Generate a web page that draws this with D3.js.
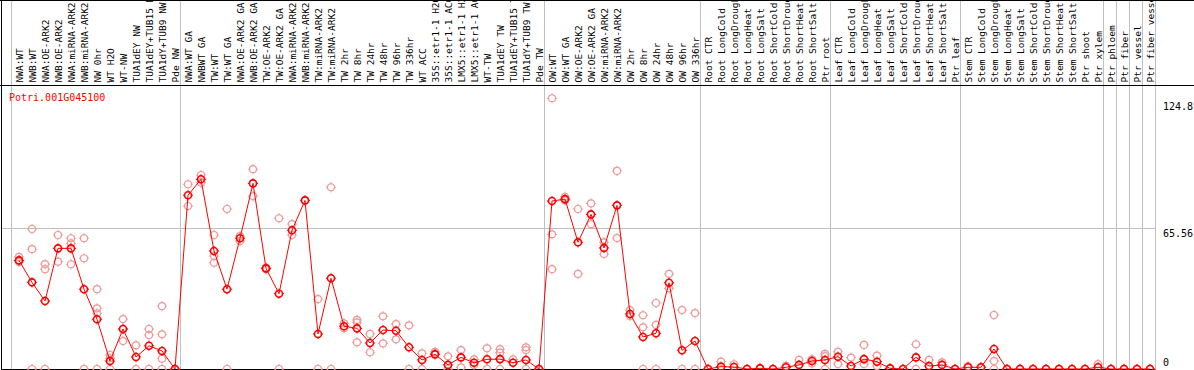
<!DOCTYPE html>
<html>
<head>
<meta charset="utf-8">
<script src="https://cdn.jsdelivr.net/npm/d3@7"></script>
<style>
  body { margin: 0; background: #fff; }
  svg { display: block; }
  text { font-family: "DejaVu Sans Mono", monospace; }
</style>
</head>
<body>
<div class="chart"></div>
<script>
// Sample labels, in column order
var labels = [
  "NWA:WT", "NWB:WT", "NWA:OE-ARK2", "NWB:OE-ARK2", "NWA:miRNA-ARK2", "NWB:miRNA-ARK2",
  "NW 0hr", "WT H2O", "WT-NW", "TUA1dEY NW", "TUA1dEY+TUB15 NW", "TUA1dY+TUB9 NW", "Pde NW",
  "NWA:WT GA", "NWBWT GA", "TW:WT", "TW:WT GA", "NWA:OE-ARK2 GA", "NWB:OE-ARK2 GA",
  "TW:OE-ARK2", "TW:OE-ARK2 GA", "NWA:miRNA-ARK2", "NWB:miRNA-ARK2", "TW:miRNA-ARK2", "TW:miRNA-ARK2",
  "TW 2hr", "TW 8hr", "TW 24hr", "TW 48hr", "TW 96hr", "TW 336hr", "WT ACC",
  "35S::etr1-1 H2O", "35S::etr1-1 ACC", "LMX5::etr1-1 H2O", "LMX5::etr1-1 ACC",
  "WT-TW", "TUA1dEY TW", "TUA1dEY+TUB15 TW", "TUA1dY+TUB9 TW", "Pde TW",
  "OW:WT", "OW:WT GA", "OW:OE-ARK2", "OW:OE-ARK2 GA", "OW:miRNA-ARK2", "OW:miRNA-ARK2",
  "OW 2hr", "OW 8hr", "OW 24hr", "OW 48hr", "OW 96hr", "OW 336hr",
  "Root CTR", "Root LongCold", "Root LongDrought", "Root LongHeat", "Root LongSalt",
  "Root ShortCold", "Root ShortDrought", "Root ShortHeat", "Root ShortSalt", "Ptr root",
  "Leaf CTR", "Leaf LongCold", "Leaf LongDrought", "Leaf LongHeat", "Leaf LongSalt",
  "Leaf ShortCold", "Leaf ShortDrought", "Leaf ShortHeat", "Leaf ShortSalt", "Ptr leaf",
  "Stem CTR", "Stem LongCold", "Stem LongDrought", "Stem LongHeat", "Stem LongSalt",
  "Stem ShortCold", "Stem ShortDrought", "Stem ShortHeat", "Stem ShortSalt", "Ptr shoot", "Ptr xylem",
  "Ptr phloem", "Ptr fiber", "Ptr vessel", "Ptr fiber vessel"
];

// number of columns in each experiment block
var groupSizes = [13, 28, 12, 10, 10, 11, 1, 1, 1, 1];

// mean expression per column
var means = [
  50.5, 40.3, 31.6, 56.1, 56.1, 37.1, 23.1, 3.7, 18.6, 5.6, 10.8, 8.4, 0,
  80.8, 88.2, 54.9, 37.1, 60.8, 86.3, 46.8, 35.0, 64.5, 78.4, 16.3, 42.2,
  19.9, 18.9, 12.1, 18.1, 17.8, 10.1, 4.2, 6.8, 1.9, 5.4, 2.9, 4.5, 4.6, 2.9, 4.2, 0,
  78.1, 79.0, 58.9, 71.9, 56.3, 76.1, 25.6, 14.9, 16.6, 40.1, 8.7, 13.0,
  0, 1.1, 0.9, 0, 0.3, 0, 0.8, 1.9, 3.7, 4.2,
  5.7, 1.4, 4.6, 3.4, 0.3, 0, 5.4, 1.4, 1.9, 0,
  0.8, 0.8, 9.3, 0, 0, 0, 0, 0, 0, 0, 0.8,
  0, 0, 0, 0
];

// individual replicate values per column
var reps = [
  [52.1, 49.8, 50.5], [65.1, 55.7, 0], [48.8, 46.4, 0], [62.3, 49.9], [60.8, 58.4, 48.7],
  [60.8, 51.5, 0], [37.1, 28.2, 25.9, 0], [6.5, 5.0, 0], [23.2, 18.6, 13.0], [11.0, 0],
  [18.6, 15.8, 0], [29.2, 16.1, 4.8, 0], [0],
  [85.9, 75.8], [90.2, 86.6], [62.3, 52.5, 49.4], [74.4, 0], [61.8, 59.5], [92.9, 80.4],
  [47.1, 46.4], [70.1, 0], [67.4, 62.3], [78.4], [32.5, 0], [84.5, 0],
  [21.2, 18.9], [22.8, 21.7, 12.4], [16.3, 7.8], [24.5, 11.9], [20.9, 13.8], [20.3, 0],
  [7.3, 0], [8.0, 7.3], [5.9, 0], [8.8, 0.8], [4.5, 1.9], [9.6, 0], [9.2, 7.6, 0],
  [4.5], [10.1, 8.8, 0], [0],
  [125.9, 62.6, 46.4], [80.1, 78.4], [74.4, 44.2], [77.0, 67.3], [58.9, 53.5], [92.1, 60.9],
  [27.4, 24.7], [25.0, 19.4, 0], [30.7, 20.5, 0], [44.2, 37.5], [27.4, 0], [26.0, 0],
  [0], [3.4], [2.2], [0], [0.3], [0], [1.5], [4.2], [4.5, 2.5], [7.0, 6.0, 0],
  [8.0, 2.3], [5.3], [11.2, 2.3], [6.2, 1.4], [0.3], [0], [11.5, 0], [4.2], [3.1], [0],
  [1.4], [0.8], [25.1, 3.7, 0], [0], [0], [0], [0], [0], [0], [0], [2.3],
  [0], [0], [0], [0]
];

var geneName = "Potri.001G045100";
var yTickValues = [124.8, 65.56, 0];

function renderChart() {
  var width = 1194, height = 370;
  var headerBottom = 85, plotBottom = 369;
  var left = 11, colW = 13, pointOffset = 8;

  var svg = d3.select('.chart').append('svg')
    .attr('width', width)
    .attr('height', height);

  var x = d3.scaleBand()
    .domain(d3.range(labels.length))
    .range([left, left + colW * labels.length])
    .paddingInner(0).paddingOuter(0);

  var y = d3.scaleLinear()
    .domain([0, 124.8])
    .range([plotBottom, 100.6]);

  var cx = function(i) { return x(i) + pointOffset; };
  var right = x.range()[1];

  // group separators
  var bounds = [0];
  groupSizes.forEach(function(n) { bounds.push(bounds[bounds.length - 1] + n); });
  svg.append('g').selectAll('line')
    .data(bounds)
    .enter().append('line')
    .attr('x1', function(b) { return Math.round(left + colW * b) + 0.5; })
    .attr('x2', function(b) { return Math.round(left + colW * b) + 0.5; })
    .attr('y1', 0).attr('y2', plotBottom)
    .attr('stroke', '#c0c0c0').attr('stroke-width', 1);

  // middle gridline
  svg.append('line')
    .attr('x1', 1).attr('x2', right)
    .attr('y1', Math.round(y(65.56)) + 0.5).attr('y2', Math.round(y(65.56)) + 0.5)
    .attr('stroke', '#c0c0c0');

  // frame
  svg.append('line').attr('x1', 0).attr('x2', width).attr('y1', 0.5).attr('y2', 0.5).attr('stroke', '#000');
  svg.append('line').attr('x1', 0).attr('x2', width).attr('y1', headerBottom + 0.5).attr('y2', headerBottom + 0.5).attr('stroke', '#000');
  svg.append('line').attr('x1', 1.5).attr('x2', 1.5).attr('y1', 0).attr('y2', plotBottom + 0.5).attr('stroke', '#000');
  svg.append('line').attr('x1', 1).attr('x2', right + 0.5).attr('y1', plotBottom + 0.5).attr('y2', plotBottom + 0.5).attr('stroke', '#000');

  // column labels (rotated)
  svg.append('g').selectAll('text')
    .data(labels)
    .enter().append('text')
    .attr('transform', function(d, i) { return 'translate(' + (cx(i) + 3.6) + ',' + 82.5 + ') rotate(-90)'; })
    .attr('font-size', '9.5px')
    .attr('fill', '#000')
    .text(function(d) { return d; });

  // y labels
  svg.append('g').selectAll('text')
    .data(yTickValues)
    .enter().append('text')
    .attr('x', 1163)
    .attr('y', function(d) { return d === 0 ? 365.5 : y(d) + 9; })
    .attr('font-size', '10px')
    .attr('fill', '#000')
    .text(function(d) { return d; });

  svg.append('text')
    .attr('x', 9).attr('y', 100.5)
    .attr('font-size', '10px')
    .attr('fill', '#ff0000')
    .text(geneName);

  function marker(g, px, py, r, color, sw) {
    g.append('circle').attr('cx', px).attr('cy', py).attr('r', r)
      .attr('fill', 'none').attr('stroke', color).attr('stroke-width', sw);
    var t = 1.6;
    [[0, -1], [0, 1], [-1, 0], [1, 0]].forEach(function(d) {
      g.append('line')
        .attr('x1', px + d[0] * (r - 0.5)).attr('y1', py + d[1] * (r - 0.5))
        .attr('x2', px + d[0] * (r + t)).attr('y2', py + d[1] * (r + t))
        .attr('stroke', color).attr('stroke-width', 1);
    });
  }

  // replicates
  var repG = svg.append('g');
  reps.forEach(function(vals, i) {
    vals.forEach(function(v) { marker(repG, cx(i), y(v), 3.5, '#ec9a9a', 1.2); });
  });

  // mean line
  var line = d3.line()
    .x(function(d, i) { return cx(i); })
    .y(function(d) { return y(d); });
  svg.append('path')
    .datum(means)
    .attr('d', line)
    .attr('fill', 'none')
    .attr('stroke', '#ff0000')
    .attr('stroke-width', 1);

  var meanG = svg.append('g');
  means.forEach(function(v, i) { marker(meanG, cx(i), y(v), 3.5, '#ff0000', 1.6); });
}

renderChart();
</script>
</body>
</html>
